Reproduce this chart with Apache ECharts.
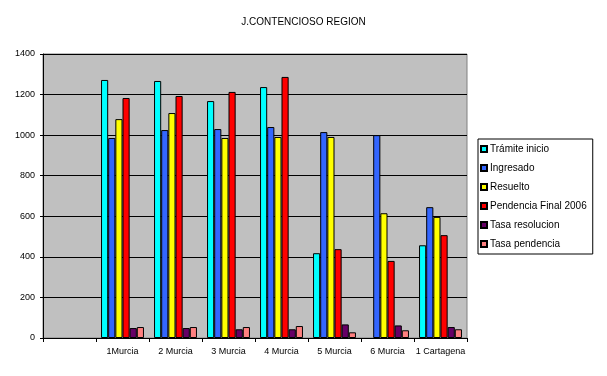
<!DOCTYPE html>
<html>
<head>
<meta charset="utf-8">
<script src="https://cdn.jsdelivr.net/npm/echarts@6/dist/echarts.min.js"></script>
<style>
  html, body { margin: 0; padding: 0; background: #fff; }
  #chart { width: 607px; height: 376px; }
</style>
</head>
<body>
<div id="chart"></div>
<script>
// categories (first one is empty in the original sheet)
var categories = ['', '1Murcia', '2 Murcia', '3 Murcia', '4 Murcia', '5 Murcia', '6 Murcia', '1 Cartagena'];

var tramiteInicio = [null, 1272, 1267, 1168, 1237, 418, null, 457];
var ingresado = [null, 986, 1025, 1030, 1040, 1015, 1000, 645];
var resuelto = [null, 1079, 1109, 986, 991, 991, 615, 597];
var pendencia = [null, 1183, 1193, 1213, 1287, 438, 380, 507];
var tasaResolucion = [null, 49, 49, 43, 43, 67, 62, 54];
var tasaPendencia = [null, 54, 54, 54, 59, 28, 38, 43];

var seriesNames = ['Trámite inicio', 'Ingresado', 'Resuelto', 'Pendencia Final 2006', 'Tasa resolucion', 'Tasa pendencia'];
var seriesData = [tramiteInicio, ingresado, resuelto, pendencia, tasaResolucion, tasaPendencia];
var colors = ['#00FFFF', '#3366FF', '#FFFF00', '#FF0000', '#660066', '#FF8080'];

var myChart = echarts.init(document.getElementById('chart'));

var series = [];
for (var i = 0; i < seriesNames.length; i++) {
    series.push({
        name: seriesNames[i],
        type: 'bar',
        data: seriesData[i],
        barGap: 0,
        barCategoryGap: '19%',
        itemStyle: { color: colors[i], borderColor: '#000', borderWidth: 1 },
        emphasis: { disabled: true }
    });
}

var option = {
    animation: false,
    color: colors,
    textStyle: { fontFamily: 'Liberation Sans, Arial, sans-serif' },
    title: {
        text: 'J.CONTENCIOSO REGION',
        left: 'center',
        top: 12,
        textStyle: { fontSize: 10, fontWeight: 'normal', color: '#000' }
    },
    grid: {
        left: 43, top: 54, right: 140, bottom: 38,
        show: true,
        backgroundColor: '#C0C0C0',
        borderColor: '#808080',
        borderWidth: 1
    },
    legend: {
        orient: 'vertical',
        left: 478,
        top: 139,
        width: 114,
        backgroundColor: '#fff',
        borderColor: '#000',
        borderWidth: 1,
        padding: [5, 6, 5, 2],
        itemWidth: 6,
        itemHeight: 6,
        itemGap: 9,
        icon: 'rect',
        textStyle: { fontSize: 10, color: '#000', padding: [0, 0, 0, -2] },
        data: seriesNames
    },
    xAxis: {
        type: 'category',
        data: categories,
        axisLine: { lineStyle: { color: '#000' } },
        axisTick: { show: true, length: 4, lineStyle: { color: '#000' } },
        axisLabel: { fontSize: 9, color: '#000', margin: 9, interval: 0 }
    },
    yAxis: {
        type: 'value',
        min: 0,
        max: 1400,
        interval: 200,
        axisLine: { show: true, lineStyle: { color: '#000' } },
        axisTick: { show: true, length: 3, lineStyle: { color: '#000' } },
        axisLabel: {
            fontSize: 9, color: '#000', margin: 8,
            formatter: function (v) { return String(v); }
        },
        splitLine: { lineStyle: { color: '#000', width: 1 } }
    },
    series: series
};

myChart.setOption(option);
</script>
</body>
</html>
